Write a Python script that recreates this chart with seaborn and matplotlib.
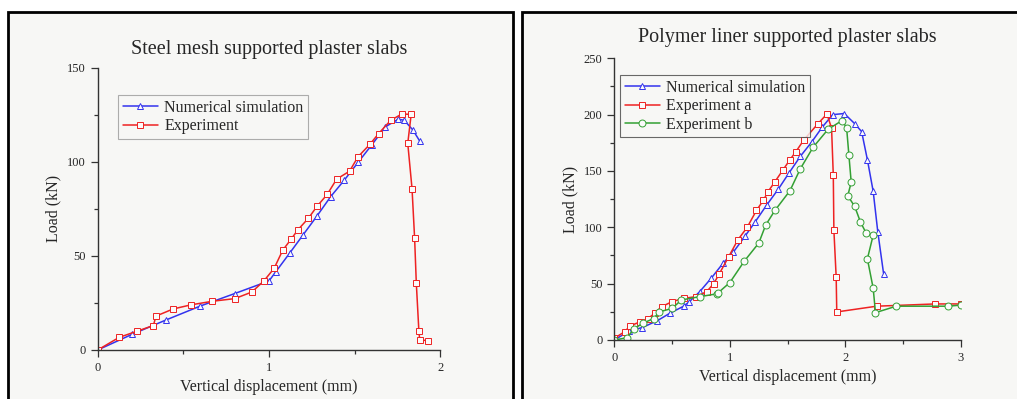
import numpy as np
import matplotlib
matplotlib.use("Agg")
import matplotlib.pyplot as plt
from matplotlib.patches import Rectangle
from matplotlib.ticker import MultipleLocator
import seaborn as sns

sns.set_style("white")
plt.rcParams['font.family'] = ['Liberation Serif', 'DejaVu Serif']

# ---- left panel: steel mesh ----
steel_sim_x = [0, 0.20, 0.40, 0.60, 0.80, 1.00, 1.04, 1.12, 1.20, 1.28, 1.36, 1.44, 1.52,
               1.60, 1.68, 1.755, 1.79, 1.84, 1.88]
steel_sim_y = [0, 8.3, 16, 23.4, 30, 36.7, 41.6, 51.4, 61.3, 71.2, 81.5, 90.3, 99.7,
               109, 118.6, 122.7, 122, 116.9, 111]
steel_exp_x = [0, 0.125, 0.23, 0.325, 0.34, 0.44, 0.545, 0.67, 0.80, 0.90, 0.97, 1.03, 1.08,
               1.13, 1.17, 1.23, 1.28, 1.34, 1.395, 1.47, 1.52, 1.59, 1.64, 1.71, 1.775, 1.83,
               1.81, 1.835, 1.85, 1.86, 1.875, 1.88, 1.93]
steel_exp_y = [0, 6.7, 10, 13, 18, 21.8, 24, 25.9, 27.3, 30.8, 36.7, 43.4, 53,
               59, 64, 70, 76.3, 82.7, 90.8, 95, 102.7, 109.4, 115, 122, 125.4, 125.2,
               109.8, 85.7, 59.5, 35.4, 10, 5.3, 5]

# ---- right panel: polymer liner ----
poly_sim_x = [0, 0.13, 0.24, 0.37, 0.48, 0.60, 0.65, 0.74, 0.84, 0.94, 1.03, 1.13, 1.22, 1.32,
              1.42, 1.51, 1.61, 1.71, 1.80, 1.89, 1.99, 2.08, 2.14, 2.19, 2.24, 2.28, 2.33]
poly_sim_y = [0, 8, 11, 17, 23.7, 30, 34, 43, 55, 68, 78, 92, 105, 120,
              134, 148, 163, 176, 189, 200, 201, 192, 185, 160, 132, 96, 59]
poly_a_x = [0, 0.09, 0.135, 0.22, 0.29, 0.35, 0.41, 0.50, 0.60, 0.71, 0.80, 0.86, 0.91, 0.99,
            1.07, 1.15, 1.23, 1.29, 1.33, 1.39, 1.46, 1.52, 1.57, 1.64, 1.76, 1.84, 1.88,
            1.895, 1.90, 1.92, 1.925, 2.27, 2.775, 3.0]
poly_a_y = [1.5, 7.4, 12.4, 16, 19, 23.7, 29.6, 34, 37, 38.5, 43, 50, 59, 74,
            89, 100, 115, 124, 131.6, 140.5, 151, 160, 167, 177.5, 191.7, 200.6, 188,
            146, 97.6, 55.6, 24.9, 30, 32, 32]
poly_b_x = [0, 0.11, 0.17, 0.25, 0.34, 0.39, 0.50, 0.58, 0.74, 0.89, 0.90, 1.0, 1.125, 1.25,
            1.31, 1.39, 1.52, 1.61, 1.72, 1.85, 1.97, 2.01, 2.03, 2.05, 2.02, 2.08, 2.13,
            2.18, 2.24, 2.19, 2.24, 2.26, 2.44, 2.89, 3.0]
poly_b_y = [0, 2, 10, 15, 19, 25, 28, 35.5, 38.5, 41, 42, 51, 70, 86,
            102, 115, 132.5, 152, 171, 187, 194.7, 188.5, 164, 140, 128, 118.6, 104.7,
            94.7, 93, 72, 46, 24.3, 30, 30, 31]

W, H = 1017, 399
fig = plt.figure(figsize=(W / 100, H / 100), dpi=100)
fig.patch.set_facecolor('white')

# panel frames
for (x0, x1) in [(8, 513), (522, 1030)]:
    fig.patches.append(Rectangle((x0 / W, -0.05), (x1 - x0) / W, (H - 12) / H + 0.05,
                                 transform=fig.transFigure, facecolor='#f7f7f5',
                                 edgecolor='black', linewidth=2, zorder=-5))


def style(ax, xmax, ymax, ymaj):
    ax.set_facecolor('none')
    sns.despine(ax=ax)
    for s in ['left', 'bottom']:
        ax.spines[s].set_color('#333333')
        ax.spines[s].set_linewidth(1.0)
    ax.set_xlim(0, xmax)
    ax.set_ylim(0, ymax)
    ax.xaxis.set_major_locator(MultipleLocator(1))
    ax.xaxis.set_minor_locator(MultipleLocator(0.5))
    ax.yaxis.set_major_locator(MultipleLocator(ymaj))
    ax.yaxis.set_minor_locator(MultipleLocator(ymaj / 2))
    ax.tick_params(which='major', direction='out', length=5, width=0.9, labelsize=9,
                   color='#333333', bottom=True, left=True)
    ax.tick_params(which='minor', direction='out', length=3, width=0.9,
                   color='#333333', bottom=True, left=True)
    ax.set_xlabel('Vertical displacement (mm)', fontsize=11.5)
    ax.set_ylabel('Load (kN)', fontsize=11.5)


def draw(ax, x, y, color, marker, label):
    sns.lineplot(x=x, y=y, ax=ax, sort=False, estimator=None, color=color, lw=1.1,
                 marker=marker, markersize=5, markerfacecolor='#fbfbfb',
                 markeredgecolor=color, markeredgewidth=0.7, label=label)


def legend(ax, anchor, edge):
    leg = ax.legend(loc='upper left', bbox_to_anchor=anchor, borderaxespad=0, fontsize=11.5,
                    frameon=True, fancybox=False, handlelength=2.2, handletextpad=0.4,
                    borderpad=0.3, labelspacing=0.15)
    leg.get_frame().set_edgecolor(edge)
    leg.get_frame().set_facecolor('#f7f7f5')
    leg.get_frame().set_linewidth(0.8)


ax1 = fig.add_axes([97.7 / W, 49 / H, 342.6 / W, 282.3 / H])
draw(ax1, steel_sim_x, steel_sim_y, '#3333ee', '^', 'Numerical simulation')
draw(ax1, steel_exp_x, steel_exp_y, '#ee2222', 's', 'Experiment')
style(ax1, 2, 150, 50)
ax1.set_title('Steel mesh supported plaster slabs', fontsize=14.5, pad=10)
legend(ax1, (0.059, 0.903), '#999999')

ax2 = fig.add_axes([614.3 / W, 59 / H, 346.7 / W, 281.7 / H])
draw(ax2, poly_sim_x, poly_sim_y, '#3333ee', '^', 'Numerical simulation')
draw(ax2, poly_a_x, poly_a_y, '#ee2222', 's', 'Experiment a')
draw(ax2, poly_b_x, poly_b_y, '#33a033', 'o', 'Experiment b')
style(ax2, 3, 250, 50)
ax2.yaxis.set_minor_locator(MultipleLocator(25))
ax2.set_title('Polymer liner supported plaster slabs', fontsize=14.5, pad=12)
legend(ax2, (0.016, 0.941), '#444444')

fig.savefig('out.png', dpi=100)
